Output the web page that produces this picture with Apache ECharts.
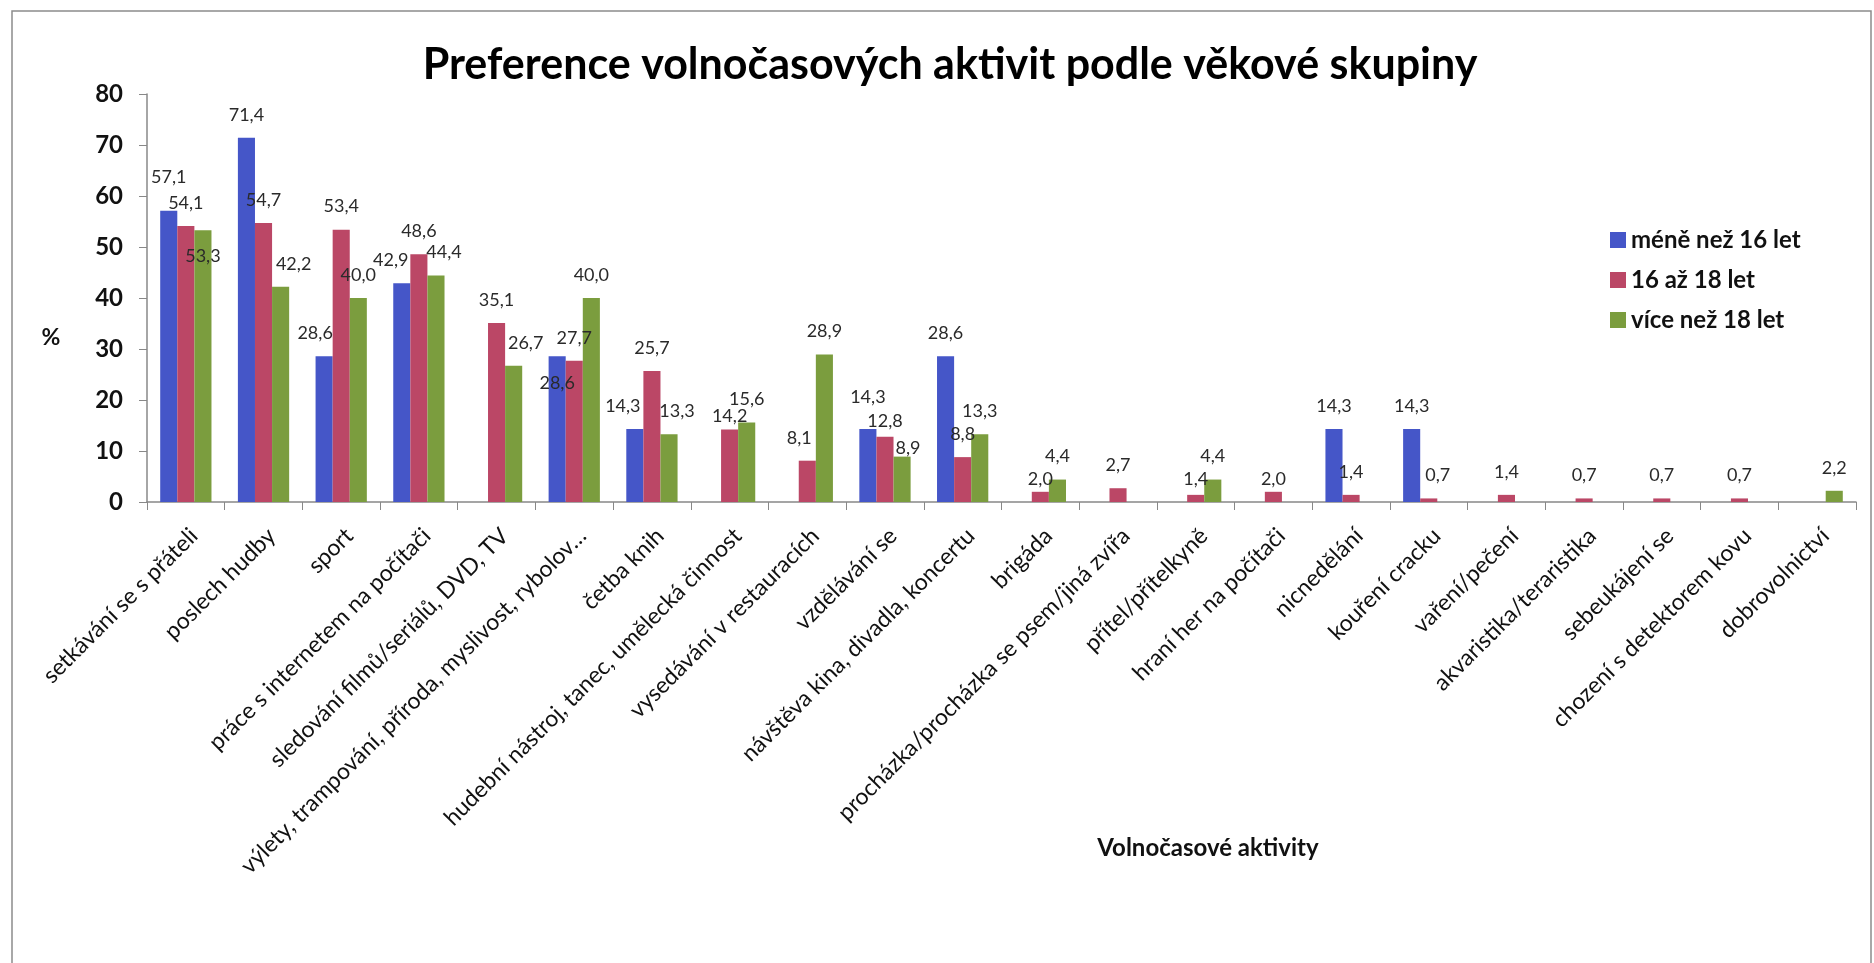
<!DOCTYPE html>
<html>
<head>
<meta charset="utf-8">
<script src="https://cdn.jsdelivr.net/npm/echarts@6/dist/echarts.min.js"></script>
<style>
  html, body { margin: 0; padding: 0; background: #fff; }
  #chart { width: 1874px; height: 963px; }
</style>
</head>
<body>
<div id="chart"></div>
<script>
// Leisure activities surveyed, one group of bars per activity
const categories = [
  'setkávání se s přáteli',
  'poslech hudby',
  'sport',
  'práce s internetem na počítači',
  'sledování filmů/seriálů, DVD, TV',
  'výlety, trampování, příroda, myslivost, rybolov…',
  'četba knih',
  'hudební nástroj, tanec, umělecká činnost',
  'vysedávání v restauracích',
  'vzdělávání se',
  'návštěva kina, divadla, koncertu',
  'brigáda',
  'procházka/procházka se psem/jiná zvířa',
  'přítel/přítelkyně',
  'hraní her na počítači',
  'nicnedělání',
  'kouření cracku',
  'vaření/pečení',
  'akvaristika/teraristika',
  'sebeukájení se',
  'chození s detektorem kovu',
  'dobrovolnictví'
];

const seriesNames = ['méně než 16 let', '16 až 18 let', 'více než 18 let'];

// Share of respondents (%) per age group; null = activity not mentioned
const under16 = [57.1, 71.4, 28.6, 42.9, null, 28.6, 14.3, null, null, 14.3, 28.6,
                 null, null, null, null, 14.3, 14.3, null, null, null, null, null];
const from16to18 = [54.1, 54.7, 53.4, 48.6, 35.1, 27.7, 25.7, 14.2, 8.1, 12.8, 8.8,
                    2.0, 2.7, 1.4, 2.0, 1.4, 0.7, 1.4, 0.7, 0.7, 0.7, null];
const over18 = [53.3, 42.2, 40.0, 44.4, 26.7, 40.0, 13.3, 15.6, 28.9, 8.9, 13.3,
                4.4, null, 4.4, null, null, null, null, null, null, null, 2.2];

// Nudges [dx, dy] for value labels that would otherwise collide ("series:category")
const labelNudges = {
  '0:0': [0, -11], '2:0': [0, 49],
  '2:1': [13, 0],
  '0:2': [-9, 0],
  '0:3': [-11, 0], '2:3': [8, 0],
  '2:4': [12, 0],
  '0:5': [0, 50],
  '0:6': [-12, 0], '2:6': [8, 0],
  '1:7': [0, 10],
  '1:8': [-8, 0],
  '0:9': [0, -9], '1:9': [0, 7], '2:9': [6, 15],
  '1:11': [0, 10],
  '1:13': [0, 7],
  '1:14': [0, 10],
  '1:16': [9, 0]
};

const colors = ['#4556C8', '#BB4766', '#7B9D3E'];
const font = 'Lato, "Open Sans", sans-serif';

const chart = echarts.init(document.getElementById('chart'));

function barSeries(si, values) {
  return {
    name: seriesNames[si],
    type: 'bar',
    data: values.map((v, ci) => {
      const nudge = labelNudges[si + ':' + ci];
      return nudge ? { value: v, label: { offset: nudge } } : v;
    }),
    barGap: '0%',
    barCategoryGap: '34%',
    itemStyle: { color: colors[si] },
    label: {
      show: true,
      position: 'top',
      distance: 14,
      fontFamily: font,
      fontSize: 18,
      color: '#2a2a2a',
      formatter: p => (p.value == null ? '' : p.value.toFixed(1).replace('.', ','))
    }
  };
}

chart.setOption({
  animation: false,
  color: colors,
  title: {
    text: 'Preference volnočasových aktivit podle věkové skupiny',
    left: 945,
    textAlign: 'center',
    top: 39,
    textStyle: { fontFamily: font, fontSize: 43, fontWeight: 'bold', color: '#000' }
  },
  legend: {
    orient: 'vertical',
    left: 1610,
    top: 228,
    padding: 0,
    itemWidth: 16,
    itemHeight: 16,
    itemGap: 16,
    icon: 'rect',
    textStyle: { fontFamily: font, fontSize: 24, lineHeight: 24, fontWeight: 'bold', color: '#111' },
    data: seriesNames
  },
  grid: { left: 147, right: 18, top: 94, height: 408 },
  xAxis: {
    type: 'category',
    data: categories,
    axisLine: { lineStyle: { color: '#888', width: 1.5 } },
    axisTick: { show: true, alignWithLabel: false, length: 8, lineStyle: { color: '#888' } },
    axisLabel: {
      interval: 0,
      rotate: 45,
      margin: 22,
      verticalAlign: 'top',
      fontFamily: font,
      fontSize: 23,
      color: '#111'
    }
  },
  yAxis: {
    type: 'value',
    min: 0,
    max: 80,
    interval: 10,
    splitLine: { show: false },
    axisLine: { show: true, lineStyle: { color: '#888', width: 1.5 } },
    axisTick: { show: true, length: 8, lineStyle: { color: '#888' } },
    axisLabel: { margin: 24, fontFamily: font, fontSize: 24, fontWeight: 'bold', color: '#111' }
  },
  graphic: [
    {
      type: 'rect',
      shape: { x: 12, y: 11, width: 1859, height: 980 },
      style: { fill: 'none', stroke: '#8c8c8c', lineWidth: 1.5 },
      silent: true
    },
    {
      type: 'text',
      x: 51, y: 338,
      style: { text: '%', fontFamily: font, fontSize: 23, fontWeight: 'bold', fill: '#111', align: 'center', verticalAlign: 'middle' }
    },
    {
      type: 'text',
      x: 1208, y: 848,
      style: { text: 'Volnočasové aktivity', fontFamily: font, fontSize: 24, fontWeight: 'bold', fill: '#111', align: 'center', verticalAlign: 'middle' }
    }
  ],
  series: [
    barSeries(0, under16),
    barSeries(1, from16to18),
    barSeries(2, over18)
  ]
});
</script>
</body>
</html>
